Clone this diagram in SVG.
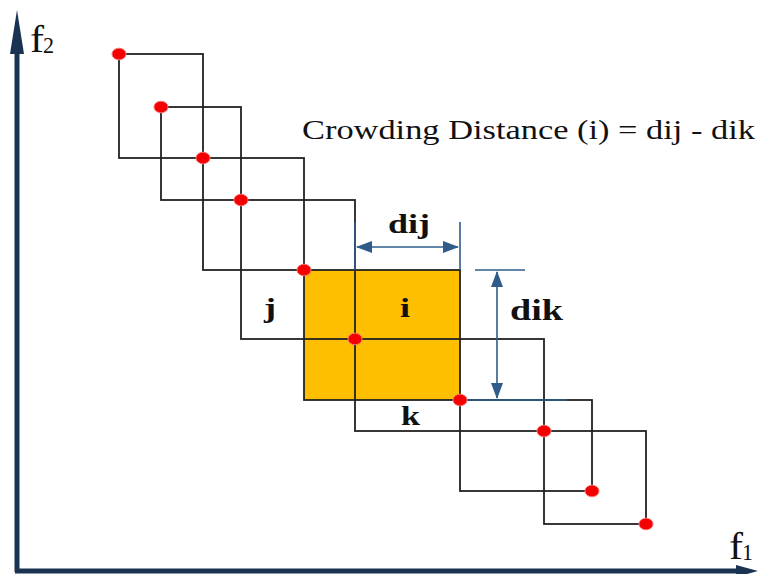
<svg xmlns="http://www.w3.org/2000/svg" width="758" height="574" viewBox="0 0 758 574">
<defs>
<style>
.box{fill:none;stroke:#222;stroke-width:1.8}
.dim{fill:none;stroke:#2F5C8A;stroke-width:1.6}
.ah{fill:#2F5C8A}
.dot{fill:#F40000;stroke:#FF7070;stroke-width:1}
.lbl{font-family:"Liberation Serif","Times New Roman",serif;font-weight:bold;fill:#111}
.ttl{font-family:"Liberation Serif","Times New Roman",serif;fill:#111}
.ax{stroke:#1B3353;stroke-width:5;fill:none}
</style>
</defs>
<rect width="758" height="574" fill="#fff"/>
<g id="axes">
<line class="ax" x1="17" y1="48" x2="17" y2="572"/>
<polygon points="17,10 10,54 24,54" fill="#1B3353"/>
<line class="ax" x1="15" y1="571" x2="740" y2="571"/>
<polygon points="758,571 736,565 736,577" fill="#1B3353"/>
<text class="ttl" x="30" y="52" font-size="37" textLength="14" lengthAdjust="spacingAndGlyphs">f</text>
<text class="ttl" x="43" y="53" font-size="23" textLength="11" lengthAdjust="spacingAndGlyphs">2</text>
<text class="ttl" x="729" y="559" font-size="37" textLength="14" lengthAdjust="spacingAndGlyphs">f</text>
<text class="ttl" x="742" y="560" font-size="23" textLength="11" lengthAdjust="spacingAndGlyphs">1</text>
</g>
<g id="boxes">
<rect id="box-i" x="304" y="270" width="156" height="130" fill="#FDBF00" stroke="#222" stroke-width="1.8"/>
<rect class="box" x="119" y="54" width="84" height="104"/>
<rect class="box" x="161" y="107" width="80" height="93"/>
<rect class="box" x="203" y="158" width="101" height="112"/>
<rect class="box" x="241" y="200" width="114" height="139"/>
<rect class="box" x="355" y="339" width="189" height="92"/>
<rect class="box" x="460" y="400" width="132" height="91"/>
<rect class="box" x="544" y="431" width="102" height="93"/>
</g>
<g id="connectors">
<line class="dim" x1="460" y1="222" x2="460" y2="270"/>
<line class="dim" x1="355" y1="222" x2="355" y2="270"/>
<line class="dim" x1="357" y1="247" x2="458" y2="247"/>
<polygon class="ah" points="356,247 372,241 372,253"/>
<polygon class="ah" points="459,247 443,241 443,253"/>
<line class="dim" x1="475" y1="270" x2="525" y2="270"/>
<line class="dim" x1="460" y1="400" x2="567" y2="400"/>
<line class="dim" x1="497" y1="272" x2="497" y2="398"/>
<polygon class="ah" points="497,271 491,287 503,287"/>
<polygon class="ah" points="497,399 491,383 503,383"/>
</g>
<g id="points">
<ellipse class="dot" cx="119" cy="54" rx="7" ry="5.8"/>
<ellipse class="dot" cx="161" cy="107" rx="7" ry="5.8"/>
<ellipse class="dot" cx="203" cy="158" rx="7" ry="5.8"/>
<ellipse class="dot" cx="241" cy="200" rx="7" ry="5.8"/>
<ellipse class="dot" cx="304" cy="270" rx="7" ry="5.8"/>
<ellipse class="dot" cx="355" cy="339" rx="7" ry="5.8"/>
<ellipse class="dot" cx="460" cy="400" rx="7" ry="5.8"/>
<ellipse class="dot" cx="544" cy="431" rx="7" ry="5.8"/>
<ellipse class="dot" cx="592" cy="491" rx="7" ry="5.8"/>
<ellipse class="dot" cx="646" cy="524" rx="7" ry="5.8"/>
</g>
<g id="labels">
<text class="ttl" x="302" y="139" font-size="28" textLength="453" lengthAdjust="spacingAndGlyphs">Crowding Distance (i) = dij - dik</text>
<text class="lbl" x="388" y="233" font-size="28" textLength="42" lengthAdjust="spacingAndGlyphs">dij</text>
<text class="lbl" x="510" y="320" font-size="29" textLength="53" lengthAdjust="spacingAndGlyphs">dik</text>
<text class="lbl" x="400" y="317" font-size="28" textLength="10" lengthAdjust="spacingAndGlyphs">i</text>
<text class="lbl" x="264" y="317" font-size="28" textLength="12" lengthAdjust="spacingAndGlyphs">j</text>
<text class="lbl" x="401" y="425" font-size="28" textLength="19" lengthAdjust="spacingAndGlyphs">k</text>
</g>
</svg>
